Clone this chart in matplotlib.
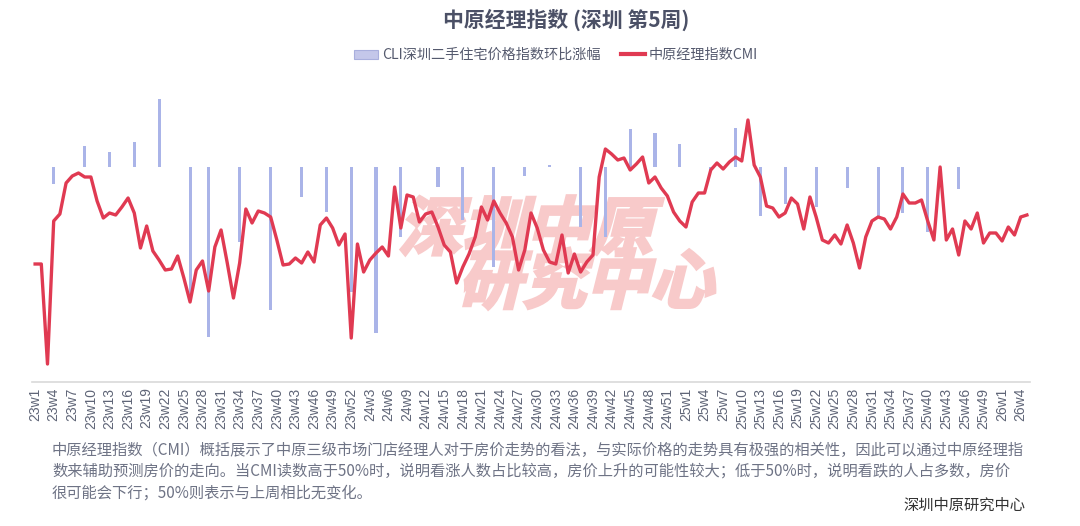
import matplotlib
matplotlib.use("Agg")
import matplotlib.pyplot as plt
import numpy as np
from matplotlib.font_manager import FontProperties
from matplotlib.lines import Line2D
from matplotlib.patches import Patch, PathPatch
from matplotlib.textpath import TextPath
from matplotlib.transforms import Affine2D

plt.rcParams["font.family"] = ["Noto Sans CJK SC", "DejaVu Sans"]

# 中原经理指数CMI, weekly, 23w1 .. 26w5
cmi = [
    43.2, 43.2, 23.2, 51.8, 53.2, 59.4, 60.8, 61.4, 60.6, 60.6,
    55.8, 52.4, 53.4, 53.0, 54.6, 56.4, 53.4, 46.4, 50.8, 45.8,
    44.0, 42.0, 42.2, 44.8, 40.4, 35.6, 42.0, 43.8, 37.8, 46.6,
    50.0, 43.4, 36.4, 43.4, 54.2, 51.4, 53.8, 53.4, 52.6, 48.0,
    43.0, 43.2, 44.4, 43.4, 45.6, 43.6, 51.0, 52.4, 50.4, 47.0,
    49.2, 28.4, 47.2, 41.6, 44.0, 45.4, 46.6, 44.8, 58.6, 50.4,
    57.0, 56.6, 51.6, 53.2, 53.6, 50.6, 47.0, 45.6, 39.4, 42.6,
    45.2, 48.6, 54.6, 52.0, 55.8, 53.4, 51.4, 48.6, 42.0, 46.0,
    53.4, 50.4, 46.0, 43.6, 43.2, 49.0, 41.4, 45.2, 41.6, 43.6,
    45.0, 60.6, 66.2, 65.2, 64.0, 64.4, 62.0, 63.2, 64.6, 59.4,
    60.6, 58.4, 56.8, 53.6, 51.8, 50.6, 55.6, 57.4, 57.4, 62.0,
    63.4, 62.2, 63.6, 64.6, 63.8, 72.0, 63.0, 60.6, 54.8, 54.4,
    52.6, 53.4, 56.4, 55.2, 50.2, 56.6, 52.6, 48.0, 47.4, 49.0,
    47.2, 51.0, 47.4, 42.4, 48.6, 51.8, 52.6, 52.2, 50.2, 52.6,
    57.2, 55.4, 55.4, 56.0, 51.8, 48.0, 62.6, 48.0, 50.2, 45.0,
    51.8, 50.2, 53.4, 47.4, 49.4, 49.4, 47.8, 50.6, 49.0, 52.6,
    53.0,
]

# CLI深圳二手住宅价格指数环比涨幅 (%), published monthly: week index -> value
cli_week = [3, 8, 12, 16, 20, 25, 28, 33, 38, 43, 47, 51, 55, 59, 65, 69, 74,
            79, 83, 88, 92, 96, 100, 104, 109, 113, 117, 121, 126, 131, 136,
            140, 144, 149]
cli_chg = [-0.17, 0.21, 0.15, 0.25, 0.68, -1.30, -1.70, -0.75, -1.43, -0.30,
           -0.45, -1.25, -1.66, -0.70, -0.20, -0.53, -1.00, -0.09, 0.02, -0.60,
           -0.70, 0.38, 0.34, 0.23, -0.05, 0.39, -0.49, -0.37, -0.40, -0.21,
           -0.50, -0.46, -0.65, -0.22]

tick_labels = (
    [f"23w{w}" for w in range(1, 53, 3)]
    + [f"24w{w}" for w in range(3, 52, 3)]
    + [f"25w{w}" for w in range(1, 50, 3)]
    + ["26w1", "26w4"]
)

BAR = "#aab4e8"
RED = "#e03a52"
TXT = "#5f6577"

W, H = 1080, 526
fig = plt.figure(figsize=(W / 100, H / 100), dpi=100)
ax = fig.add_axes([32 / W, (H - 382) / H, 998 / W, 292 / H])
ax2 = ax.twinx()

x = np.arange(len(cmi))
ax.bar(cli_week, cli_chg, width=0.5, color=BAR, zorder=2)
ax2.plot(x, cmi, color=RED, lw=2.4, solid_joinstyle="round", zorder=3)

ax.set_xlim(-0.5, len(cmi) - 0.5)
ax.set_ylim(-2.15, 0.77)
ax2.set_ylim(19.6, 78.0)

ax.set_xticks(x[::3])
ax.set_xticklabels(tick_labels, fontsize=10, color=TXT,
                   family=["Liberation Sans", "DejaVu Sans"])
ax.tick_params(axis="x", length=0, pad=4, labelrotation=90)
for a in (ax, ax2):
    a.set_yticks([])
    for s in ("top", "left", "right"):
        a.spines[s].set_visible(False)
ax2.spines["bottom"].set_visible(False)
ax.spines["bottom"].set_color("#d9d9d9")
ax.spines["bottom"].set_linewidth(1.2)

# watermark (heavy slanted logo text)
wm = FontProperties(family="Noto Sans CJK SC", weight="heavy")
for txt, px, py in [("深圳中原", 398, 250), ("研究中心", 458, 303)]:
    tp = TextPath((0, 0), txt, size=46, prop=wm)
    tr = (Affine2D().skew_deg(14, 0).scale(1 / 72)
          .translate(px / 100, (H - py) / 100) + fig.dpi_scale_trans)
    ax.add_patch(PathPatch(tp, transform=tr, fc="#f8caca", ec="#f8caca",
                           lw=2.2, zorder=1, clip_on=False))

fig.text(566 / W, 1 - 20 / H, "中原经理指数 (深圳 第5周)", ha="center", va="center",
         fontsize=15, fontweight="bold", color="#4b5066")

handles = [Patch(facecolor="#c4c7ea", edgecolor="#a9afdd", lw=0.8),
           Line2D([], [], color=RED, lw=3)]
fig.legend(handles, ["CLI深圳二手住宅价格指数环比涨幅", "中原经理指数CMI"],
           loc="center", bbox_to_anchor=(556 / W, 1 - 55 / H), ncol=2,
           frameon=False, fontsize=10.2, handlelength=1.7, handleheight=0.6,
           columnspacing=1.4, handletextpad=0.3, labelcolor="#555a6e")

notes = [
    "中原经理指数（CMI）概括展示了中原三级市场门店经理人对于房价走势的看法，与实际价格的走势具有极强的相关性，因此可以通过中原经理指",
    "数来辅助预测房价的走向。当CMI读数高于50%时，说明看涨人数占比较高，房价上升的可能性较大；低于50%时，说明看跌的人占多数，房价",
    "很可能会下行；50%则表示与上周相比无变化。",
]
for k, line in enumerate(notes):
    fig.text(52 / W, 1 - (450 + 21.5 * k) / H, line, ha="left", va="center",
             fontsize=11, color="#6e7385")
fig.text(1025 / W, 1 - 505 / H, "深圳中原研究中心", ha="right", va="center",
         fontsize=11, color="#333333")

fig.savefig("out.png", dpi=100)
